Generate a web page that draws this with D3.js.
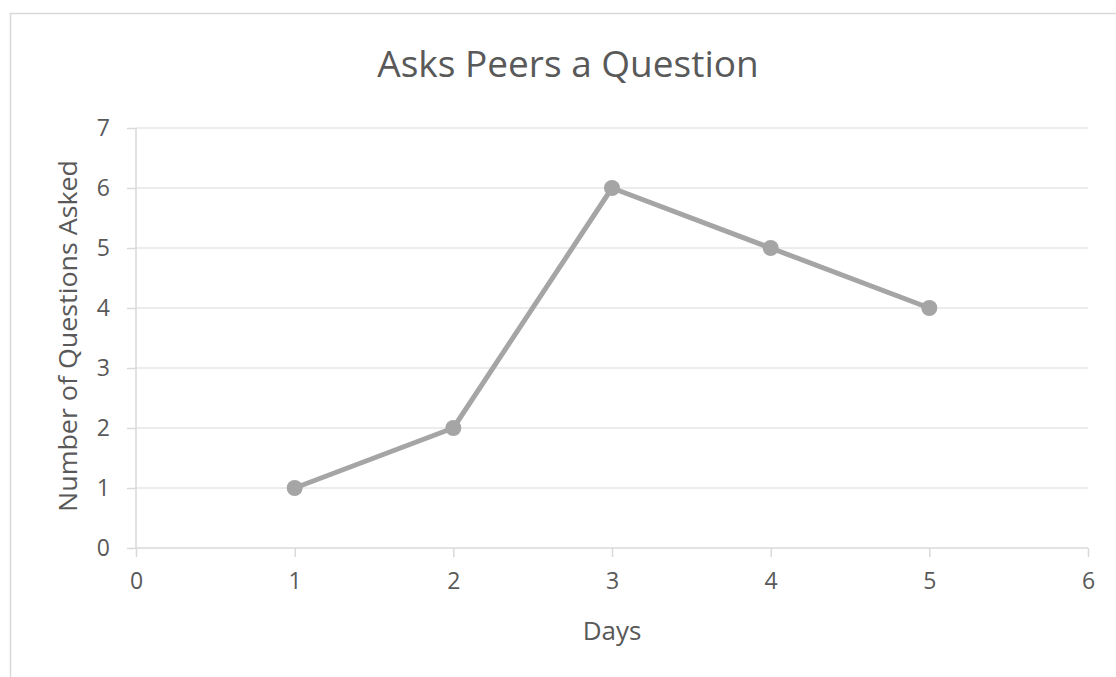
<!DOCTYPE html>
<html>
<head>
<meta charset="utf-8">
<script src="https://cdn.jsdelivr.net/npm/d3@7"></script>
<style>
  body { margin: 0; background: #fff; }
  text { font-family: "Open Sans", sans-serif; fill: #595959; }
</style>
</head>
<body>
<svg id="chart" width="1116" height="677"></svg>
<script>
const days = [1, 2, 3, 4, 5];
const questions = [1, 2, 6, 5, 4];
const xTicks = [0, 1, 2, 3, 4, 5, 6];
const yTicks = [0, 1, 2, 3, 4, 5, 6, 7];

const svg = d3.select("#chart");
const margin = { top: 128, right: 28, bottom: 129, left: 136 },
  width = 1116 - margin.left - margin.right,
  height = 677 - margin.top - margin.bottom;

// chart area border
svg.append("rect")
  .attr("x", 10.5).attr("y", 13.5)
  .attr("width", 1120).attr("height", 700)
  .attr("fill", "none").attr("stroke", "#d9d9d9").attr("stroke-width", 1.5);

const g = svg.append("g").attr("transform", `translate(${margin.left},${margin.top})`);

const x = d3.scaleLinear().domain([0, 6]).range([0, width]);
const y = d3.scaleLinear().domain([0, 7]).range([height, 0]);

// gridlines
g.append("g")
  .selectAll("line")
  .data(yTicks.filter(d => d > 0))
  .join("line")
  .attr("x1", 0).attr("x2", width)
  .attr("y1", d => y(d)).attr("y2", d => y(d))
  .attr("stroke", "#d9d9d9").attr("stroke-width", 1.2);

// y axis
const yAxis = g.append("g")
  .call(d3.axisLeft(y).tickValues(yTicks).tickSize(9).tickPadding(17).tickFormat(d3.format("d")));
yAxis.select(".domain").attr("stroke", "#d9d9d9").attr("stroke-width", 1.5).attr("d", `M0,${height}V0`);
yAxis.selectAll(".tick line").attr("stroke", "#d9d9d9").attr("stroke-width", 1.5);
yAxis.selectAll(".tick text").style("font-size", "23px").attr("fill", "#595959");

// x axis
const xAxis = g.append("g")
  .attr("transform", `translate(0,${height})`)
  .call(d3.axisBottom(x).tickValues(xTicks).tickSize(9).tickPadding(16).tickFormat(d3.format("d")));
xAxis.select(".domain").attr("stroke", "#d9d9d9").attr("stroke-width", 1.5).attr("d", `M0,0H${width}`);
xAxis.selectAll(".tick line").attr("stroke", "#d9d9d9").attr("stroke-width", 1.5);
xAxis.selectAll(".tick text").style("font-size", "23px").attr("fill", "#595959");

// line
const data = days.map((d, i) => ({ day: d, q: questions[i] }));
g.append("path")
  .datum(data)
  .attr("fill", "none")
  .attr("stroke", "#a5a5a5")
  .attr("stroke-width", 5)
  .attr("stroke-linejoin", "round")
  .attr("d", d3.line().x(d => x(d.day)).y(d => y(d.q)));

g.selectAll("circle")
  .data(data)
  .join("circle")
  .attr("cx", d => x(d.day)).attr("cy", d => y(d.q))
  .attr("r", 8)
  .attr("fill", "#a5a5a5");

// titles
svg.append("text")
  .attr("x", 568).attr("y", 77)
  .attr("text-anchor", "middle")
  .style("font-size", "37px")
  .text("Asks Peers a Question");

svg.append("text")
  .attr("x", 612).attr("y", 640)
  .attr("text-anchor", "middle")
  .style("font-size", "26px")
  .text("Days");

svg.append("text")
  .attr("transform", `translate(77,336) rotate(-90)`)
  .attr("text-anchor", "middle")
  .attr("textLength", 352).attr("lengthAdjust", "spacingAndGlyphs")
  .style("font-size", "26px")
  .text("Number of Questions Asked");
</script>
</body>
</html>
